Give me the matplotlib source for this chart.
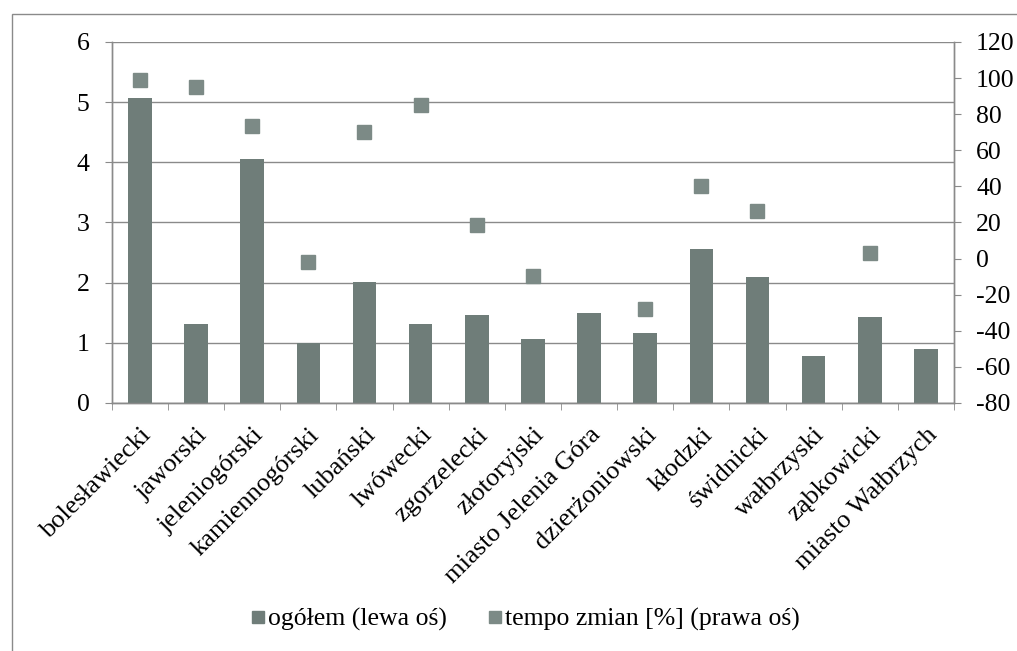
import numpy as np
import matplotlib.pyplot as plt
from matplotlib.patches import Rectangle
from matplotlib.lines import Line2D

# powiaty
kategorie = ["bolesławiecki", "jaworski", "jeleniogórski", "kamiennogórski", "lubański",
             "lwówecki", "zgorzelecki", "złotoryjski", "miasto Jelenia Góra", "dzierżoniowski",
             "kłodzki", "świdnicki", "wałbrzyski", "ząbkowicki", "miasto Wałbrzych"]
# ogółem (lewa oś)
ogolem = [5.07, 1.32, 4.05, 1.00, 2.01, 1.31, 1.46, 1.06, 1.50, 1.17, 2.56, 2.09, 0.78, 1.43, 0.89]
# tempo zmian [%] (prawa oś), brak wartości = nan
tempo = [99, 95, 73.5, -2, 70, 85, 18.6, -9.6, np.nan, -28, 40.4, 26.5, np.nan, 2.9, np.nan]

kolor_slupka = "#6f7d79"
kolor_znacznika = "#7c8a86"
kolor_siatki = "#8a8a8a"

plt.rcParams["font.family"] = ["Liberation Serif", "DejaVu Serif"]
plt.rcParams["axes.unicode_minus"] = False

fig = plt.figure(figsize=(10.17, 6.51), dpi=100)
ax = fig.add_axes([0.110, 0.381, 0.828, 0.5545])
ax2 = ax.twinx()

x = np.arange(len(kategorie))
ax.bar(x, ogolem, width=0.42, color=kolor_slupka, zorder=3)
ax2.plot(x, tempo, "s", ms=9.5, color=kolor_znacznika, linestyle="none", zorder=3)

ax.set_xlim(-0.5, len(kategorie) - 0.5)
ax.set_ylim(0, 6)
ax.set_yticks(range(0, 7))
ax2.set_ylim(-80, 120)
ax2.set_yticks(range(-80, 121, 20))

ax.grid(axis="y", color=kolor_siatki, linewidth=1.0, zorder=0)
ax.set_axisbelow(True)

ax.set_xticks(x)
ax.set_xticklabels(kategorie, rotation=45, ha="right", rotation_mode="anchor", fontsize=19)
ax.set_xticks(np.arange(-0.5, len(kategorie)), minor=True)
ax.tick_params(axis="x", which="major", length=0, pad=15)
ax.tick_params(axis="x", which="minor", length=5, direction="out", color=kolor_siatki)
ax.tick_params(axis="y", labelsize=18.5, length=5, color=kolor_siatki, pad=11)
ax2.tick_params(axis="y", labelsize=18.5, length=5, color=kolor_siatki, pad=11)

for a in (ax, ax2):
    a.spines["top"].set_visible(False)
    for s in ("left", "right", "bottom"):
        a.spines[s].set_color(kolor_siatki)
        a.spines[s].set_linewidth(1.0)

# legenda
uchwyty = [Line2D([], [], marker="s", ms=9, color=kolor_slupka, linestyle="none"),
           Line2D([], [], marker="s", ms=9, color=kolor_znacznika, linestyle="none")]
fig.legend(uchwyty, ["ogółem (lewa oś)", "tempo zmian [%] (prawa oś)"],
           loc="center", bbox_to_anchor=(0.517, 0.048), ncol=2, frameon=False,
           fontsize=18.5, handletextpad=0.15, columnspacing=1.6, handlelength=0.5)

# ramka wykresu
fig.patches.append(Rectangle((12 / 1017, -0.1), 1.2, 1 - 14 / 651 + 0.1,
                             transform=fig.transFigure, fill=False,
                             edgecolor="#8a8a8a", linewidth=1.0))

fig.savefig("out.png", dpi=100)
